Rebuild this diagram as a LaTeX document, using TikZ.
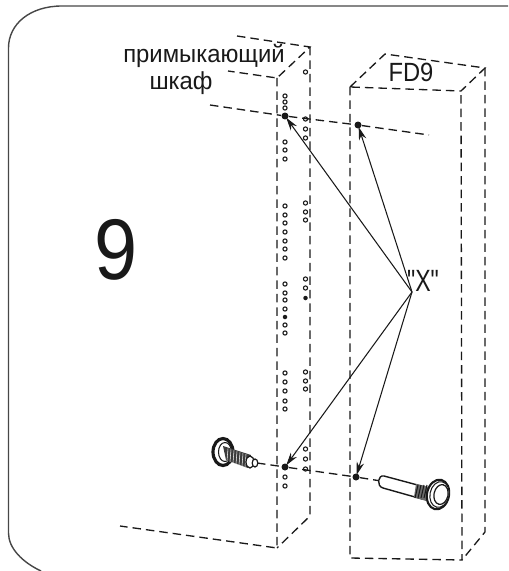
\documentclass[tikz,border=0pt]{standalone}
\usepackage{fontspec}
\setmainfont{Liberation Sans}
\newfontfamily\straightfont[Ligatures=ResetAll]{Liberation Sans}
\usetikzlibrary{arrows.meta}
\definecolor{ink}{gray}{0.1}
\tikzset{
  frameline/.style = {draw=ink!80, line width=0.8pt},
  cabinet/.style = {draw=ink, line width=0.75pt, dash pattern=on 0.17cm off 0.1cm},
  hole/.style = {circle, draw=ink, line width=0.6pt, fill=white, inner sep=0pt, minimum size=0.085cm},
  dot/.style = {circle, fill=ink, inner sep=0pt, minimum size=0.14cm},
  arrow/.style = {-{Stealth[length=0.26cm, width=0.15cm]}, draw=ink, line width=0.6pt, shorten >=-1pt},
  part/.style = {draw=ink, line width=0.8pt, fill=white},
  label/.style = {text=ink, inner sep=0pt, align=center},
}

\begin{document}
\begin{tikzpicture}[x=0.02cm, y=-0.02cm]
    \useasboundingbox (0,0) rectangle (508,571);

    % Rounded frame, open on the right and at the bottom
    \draw[frameline] (508,6) -- (62,6) .. controls (30,6) and (8.5,24) .. (8.5,48) -- (8.5,533)
      .. controls (8.5,548) and (22,562) .. (41,571);

    % Adjacent cabinet
    \coordinate (afl) at (277,78);
    \coordinate (abr) at (310,47);
    \coordinate (afb) at (277,548);
    \draw[cabinet] (237,36) -- (abr) -- (afl) -- (228,71);
    \draw[cabinet] (afl) -- (afb) -- (120,526);
    \draw[cabinet] (abr) -- (310,516) -- (afb);

    % Cabinet FD9
    \coordinate (ffl) at (350,87);
    \coordinate (ffr) at (461,91);
    \coordinate (fbl) at (385,54);
    \coordinate (fbr) at (485,68);
    \coordinate (ffb) at (350,558);
    \coordinate (frb) at (462,560);
    \draw[cabinet] (ffl) -- (fbl) -- (fbr) -- (ffr) -- cycle;
    \draw[cabinet] (ffl) -- (ffb) -- (frb) -- (ffr);
    \draw[cabinet] (fbr) -- (485,532) -- (frb);

    % Holes in the adjacent cabinet
    \foreach \y in {96,102,108,142,150,159,206,215,223,232,241,249,258,284,293,300,309,325,333,373,382,391,401,409,477,486}
      \node[hole] (inner\y) at (285,\y) {};
    \foreach \y in {72,119,129,138,203,212,220,279,288,372,381,389,449,459,469}
      \node[hole] (outer\y) at (305.5,\y) {};
    \node[dot, minimum size=0.09cm] (innerfull) at (285,317) {};
    \node[dot, minimum size=0.09cm] (outerfull) at (305.5,298) {};

    % Fixing points
    \node[dot] (topa) at (285,116) {};
    \node[dot] (topb) at (358,125) {};
    \node[dot] (lowa) at (285,467) {};
    \node[dot] (lowb) at (356,477) {};

    % Fixing lines
    \draw[cabinet] (210,105) -- (topa) -- (topb) -- (429,135);
    \draw[cabinet] (257,463) -- (lowa) -- (lowb) -- (381,481);

    % Pointers from "X"
    \coordinate (xpt) at (412,292);
    \foreach \target in {topa,topb,lowa,lowb}
      \draw[arrow] (xpt) -- (\target);

    % Screw
    \draw[part, line width=1.8pt] (223,452) ellipse [x radius=10, y radius=13.5];
    \draw[part, line width=0.6pt] (225,452) ellipse [x radius=6.5, y radius=9.5];
    \fill[ink!85] (223,446) -- (251,455) -- (248,468) -- (226,460) -- cycle;
    \foreach \x in {228,231,...,246}
      \draw[white, line width=0.3pt] (\x,{447+(\x-223)/3.2}) -- (\x-1,{460+(\x-226)/2.8});
    \draw[part, line width=0.7pt] (250,462) ellipse [x radius=4, y radius=6];
    \draw[part, line width=0.7pt] (255,463) ellipse [x radius=2.8, y radius=4];

    % Sleeve
    \draw[part] (425,487) -- (384,476) .. controls (378,474.5) and (376,486) .. (383,488) -- (422,499);
    \fill[ink!65] (416,484) -- (429,487) -- (426,501) -- (414,497) -- cycle;
    \foreach \x in {418,421,...,427}
      \draw[ink, line width=0.6pt] (\x,485) -- (\x-3,498);
    \draw[part, line width=1.2pt] (438,494.5) ellipse [x radius=11, y radius=15, rotate=-12];
    \draw[part, line width=0.6pt] (439.5,494.5) ellipse [x radius=9.5, y radius=13, rotate=-12];
    \draw[part, line width=0.7pt] (441,494.5) ellipse [x radius=7, y radius=10, rotate=-12];

    % Labels
    \node[label, font=\fontsize{49}{49}\selectfont, xscale=0.9] (numlabel) at (116.5,250) {9};
    \node[label, font=\fontsize{14}{14}\selectfont, xscale=0.97] (adjlabel) at (204,56) {примыкающий};
    \node[label, font=\fontsize{14}{14}\selectfont, xscale=0.97] (sidelabel) at (181,83) {шкаф};
    \node[label, font=\fontsize{15}{15}\selectfont, xscale=0.9] (fdlabel) at (411,72) {FD9};
    \node[label, font=\straightfont\fontsize{17.5}{17.5}\selectfont, xscale=0.75] (xlabel) at (423,281) {"X"};
\end{tikzpicture}
\end{document}
